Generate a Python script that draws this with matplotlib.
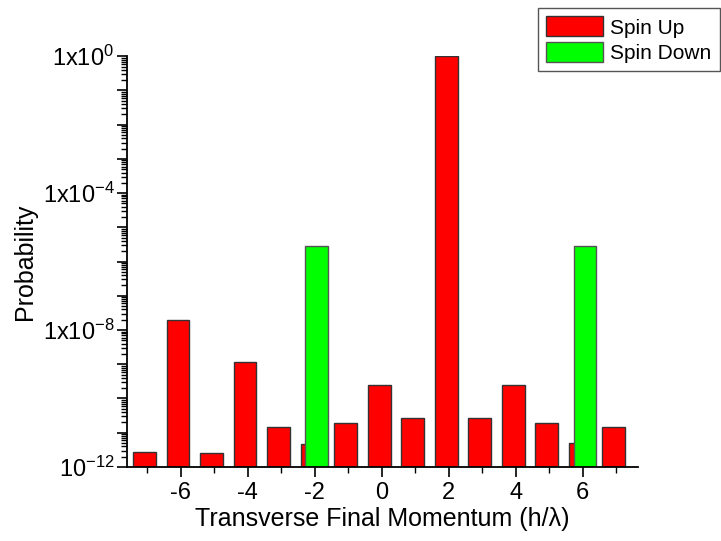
import numpy as np
import matplotlib
matplotlib.use("Agg")
import matplotlib.pyplot as plt
from matplotlib.ticker import FixedLocator, NullFormatter, FuncFormatter

plt.rcParams["font.family"] = ["Liberation Sans", "DejaVu Sans"]
plt.rcParams["axes.unicode_minus"] = False

# momentum orders and probabilities
momentum = [-7, -6, -5, -4, -3, -2, -1, 0, 1, 2, 3, 4, 5, 6, 7]
spin_up = [1.7e-12, 1.9e-8, 1.5e-12, 1.2e-9, 1.35e-11, 3.6e-12, 1.8e-11,
           2.5e-10, 2.5e-11, 0.99, 2.5e-11, 2.5e-10, 1.8e-11, 3.9e-12, 1.4e-11]
down_momentum = [-2, 6]
spin_down = [2.9e-6, 2.9e-6]

fig = plt.figure(figsize=(7.21, 5.41), dpi=100)
ax = fig.add_axes([0.176, 0.137, 0.709, 0.759])

width = 0.68
ax.bar(np.array(momentum) - 0.075, spin_up, width=width, bottom=1e-12,
       color="#ff0000", edgecolor="#333333", linewidth=1.0, label="Spin Up")
ax.bar(np.array(down_momentum) + 0.065, spin_down, width=width, bottom=1e-12,
       color="#00ff00", edgecolor="#555555", linewidth=1.0, label="Spin Down")

ax.set_yscale("log")
ax.set_ylim(1e-12, 1.0)
ax.set_xlim(-7.6, 7.65)

# y ticks: major every decade, labels every 4 decades
decades = [10.0 ** k for k in range(-12, 1)]
ax.yaxis.set_major_locator(FixedLocator(decades))
minors = [m * 10.0 ** k for k in range(-12, 0) for m in range(2, 10)]
ax.yaxis.set_minor_locator(FixedLocator(minors))
ax.yaxis.set_minor_formatter(NullFormatter())


def ylabel_fmt(v, pos):
    e = int(round(np.log10(v)))
    if e == -12:
        return r"$\mathregular{10^{-12}}$"
    if e % 4 == 0:
        return r"$\mathregular{1x10^{%d}}$" % e
    return ""


ax.yaxis.set_major_formatter(FuncFormatter(ylabel_fmt))

ax.set_xticks([-6, -4, -2, 0, 2, 4, 6])
ax.set_xticks([-7, -5, -3, -1, 1, 3, 5, 7], minor=True)

ax.tick_params(axis="both", which="major", direction="out", length=7, width=1.2,
               labelsize=17, pad=4)
ax.tick_params(axis="y", which="major", pad=2)
ax.tick_params(axis="both", which="minor", direction="out", length=4, width=1.0)

for side in ["top", "right"]:
    ax.spines[side].set_visible(False)
for side in ["left", "bottom"]:
    ax.spines[side].set_linewidth(1.3)

ax.set_xlabel("Transverse Final Momentum (h/\u03bb)", fontsize=18, labelpad=2)
ax.set_ylabel("Probability", fontsize=18, labelpad=4)

leg = ax.legend(loc="upper right", bbox_to_anchor=(0.998, 0.985),
                bbox_transform=fig.transFigure, fontsize=15, fancybox=False,
                handlelength=2.7, handleheight=1.1, handletextpad=0.35,
                borderpad=0.4, labelspacing=0.2, borderaxespad=0,
                framealpha=1)
leg.get_frame().set_edgecolor("#555555")
leg.get_frame().set_linewidth(1.0)

fig.savefig("out.png", dpi=100)
